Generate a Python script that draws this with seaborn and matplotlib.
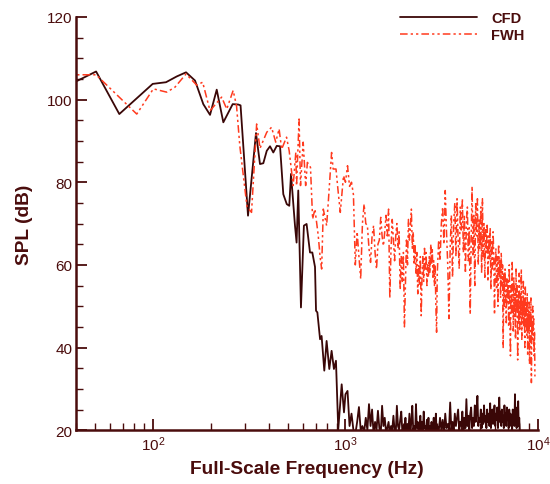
import numpy as np
import pandas as pd
import matplotlib
matplotlib.use("Agg")
import matplotlib.pyplot as plt
import seaborn as sns
from matplotlib.ticker import LogLocator, MultipleLocator, NullFormatter, FixedLocator

# ---------------- data ----------------
# CFD below 1 kHz: frequency (Hz) / SPL (dB)
cfd_low_freq = [33.3, 50.6, 66.8, 99.6, 116.8, 132.8, 148.4, 165.3, 182.5, 197.8,
                214.3, 231.9, 259.4, 277.4, 285.0, 311.6, 342.8, 359.6, 374.2, 389.9,
                405.5, 421.7, 439.5, 457.1, 475.3, 495.5, 510.5, 521.2, 546.6, 557.2,
                568.5, 587.1, 608.1, 628.1, 654.2, 672.6, 694.6, 703.1, 714.5, 737.9,
                751.6, 776.2, 798.0, 824.1, 847.2, 871.0, 892.5, 917.3, 955.7, 982.5]
cfd_low_spl = [102.6, 106.8, 96.5, 103.8, 104.2, 105.6, 106.6, 104.6, 98.9, 96.3,
               102.4, 94.5, 98.9, 98.8, 98.6, 71.9, 91.9, 84.4, 84.6, 87.6,
               88.7, 87.2, 88.8, 88.7, 77.1, 74.7, 74.3, 82.0, 69.5, 65.4,
               78.0, 49.7, 69.5, 69.9, 63.0, 63.0, 59.5, 48.9, 48.5, 42.0,
               42.8, 34.4, 41.6, 34.8, 39.2, 34.8, 36.8, 20.2, 31.1, 24.3]
# CFD 1000-2975 Hz, every 25 Hz
cfd_mid_spl = [28.7, 29.5, 21, 24, 20, 19, 22, 25.6,
               20, 21, 19.5, 23, 20, 26.3, 21, 25,
               19, 22, 20, 24.7, 20.5, 19, 25.9, 21,
               23, 19.5, 20.5, 22, 19, 21, 20, 23.5,
               20, 19, 25.9, 21, 20, 22.5, 24.5, 19.5,
               21, 20, 23, 19, 21.5, 20, 24, 19.5,
               22, 25.9, 20, 21, 19, 26.3, 20.5, 22,
               19.5, 21, 23.5, 20, 22, 19, 24.5, 20.5,
               21, 19.5, 22.5, 20, 23, 19, 21, 20,
               22, 19.5, 20.5, 23, 19, 21, 24, 20]
# CFD from 3000 Hz, every 50 Hz
cfd_high_spl = [21, 19.5, 23, 20, 22.5, 19, 24, 20.5, 21.5, 20,
                26.7, 20, 22, 19.5, 24, 21, 23, 25, 20, 22,
                21, 24.5, 19.5, 23, 20.5, 27.5, 21, 23.5, 20, 24,
                25.5, 20.5, 23, 21, 26, 22, 24.5, 28.3, 21, 23,
                22, 25, 20.5, 24, 21.5, 26, 22, 23.5, 20.5, 25,
                22, 24, 21, 26.5, 20.5, 23, 25, 21.5, 24, 26,
                21, 24, 22.5, 25.5, 20.5, 23, 27.9, 22, 24.5, 21,
                25, 22, 23.5, 20.5, 26, 22, 24, 21, 25.5, 22.5,
                23, 20.5, 25, 22, 24, 21, 23.5, 20, 25, 22,
                24, 21, 28.7, 22, 23, 20.5, 25.5, 22, 27, 21,
                23, 20]

# FWH below 1 kHz
fwh_low_freq = [33.3, 50.6, 82.3, 100.4, 117.8, 130.0, 148.4, 168.7, 181.1, 197.8,
                227.3, 241.6, 260.8, 271.6, 282.5, 308.0, 325.0, 345.5, 359.6, 390.0,
                413.0, 434.0, 452.0, 466.0, 494.0, 510.0, 535.0, 552.0, 557.0, 574.0,
                584.0, 603.0, 621.0, 634.0, 658.0, 675.0, 694.0, 722.0, 738.0, 752.0,
                767.0, 798.0, 814.0, 847.0, 863.0, 893.0, 915.0, 940.0, 977.0]
fwh_low_spl = [106.0, 106.0, 96.5, 102.6, 101.8, 103.0, 106.2, 103.5, 104.2, 97.3,
               100.6, 97.7, 102.2, 98.5, 88.8, 74.0, 72.7, 94.1, 88.2, 92.1,
               93.3, 89.7, 92.9, 88.0, 90.9, 87.6, 79.2, 87.2, 79.2, 95.3,
               79.2, 89.7, 79.2, 84.8, 83.6, 71.1, 73.5, 67.1, 62.0, 59.0,
               73.5, 69.5, 75.1, 87.2, 83.2, 83.2, 78.0, 72.7, 81.6]
# FWH 1000-2975 Hz, every 25 Hz
fwh_mid_spl = [80, 84, 79, 80, 77, 60, 68, 62,
               56.6, 70, 74.7, 70, 69.5, 64, 60.6, 67,
               69.5, 63, 59, 65, 66, 71.5, 67, 64.6,
               68, 72, 67, 73.5, 52, 64, 71, 66,
               61, 67, 70, 64, 68, 54, 62, 56,
               63, 45, 56, 66, 60, 71, 66, 69,
               73.5, 64, 68, 60, 65, 58, 63, 53,
               60, 55, 62, 47.7, 57, 62, 56, 64,
               59, 63, 55, 60, 57, 62, 58, 65,
               60, 64, 57, 61, 55, 60, 50, 43.7]
# FWH from 3000 Hz, every 50 Hz
fwh_high_spl = [58, 66, 61, 70, 74, 65, 78, 68, 60, 47,
                64, 72, 57, 70, 75, 62, 76, 66, 59, 74,
                68, 76, 63, 72, 58, 70, 74, 61, 69, 48,
                66, 79, 62, 72, 55, 75, 67, 76, 60, 71,
                64, 74, 58, 76, 62, 70, 57, 69, 63, 70,
                56, 67, 61, 69, 54, 66, 59, 68, 62, 48,
                60, 64, 54, 62, 50, 65, 57, 61, 52, 63,
                55, 60, 40, 58, 50, 59, 53, 46, 57, 51,
                56, 45, 60, 50, 38, 55, 48, 61, 52, 44,
                57, 47, 53, 42, 59, 49, 55, 37, 52, 46,
                58, 44, 53, 48, 59, 42, 51, 47, 56, 45,
                52, 40, 55, 46, 50, 43, 53, 38, 49, 44,
                51, 36, 48, 45, 52, 31.5, 46, 42, 50, 44,
                47, 38, 44, 33]

mid_start, mid_step = 1000.0, 25.0
high_start, high_step = 3000.0, 50.0

series_names = ["CFD", "FWH"]


def build(low_f, low_s, mid_s, high_s):
    f = list(low_f)
    f += list(mid_start + mid_step * np.arange(len(mid_s)))
    f += list(high_start + high_step * np.arange(len(high_s)))
    s = list(low_s) + list(mid_s) + list(high_s)
    return pd.DataFrame({"freq": f, "spl": s})


cfd = build(cfd_low_freq, cfd_low_spl, cfd_mid_spl, cfd_high_spl)
fwh = build(fwh_low_freq, fwh_low_spl, fwh_mid_spl, fwh_high_spl)

# ---------------- style ----------------
AX_COLOR = "#4a0c0c"
CFD_COLOR = "#3a0707"
FWH_COLOR = "#ff3a1e"

sns.set_theme(style="ticks")
plt.rcParams["font.family"] = ["Liberation Sans", "DejaVu Sans"]
plt.rcParams["mathtext.default"] = "regular"

fig = plt.figure(figsize=(5.5, 4.85), dpi=100)
ax = fig.add_axes([0.139, 0.111, 0.839, 0.852])

sns.lineplot(data=cfd, x="freq", y="spl", ax=ax, color=CFD_COLOR, lw=1.3,
             label=series_names[0], estimator=None, sort=False)
sns.lineplot(data=fwh, x="freq", y="spl", ax=ax, color=FWH_COLOR, lw=1.1,
             linestyle=(0, (5, 2, 1.5, 2, 1.5, 2)),
             label=series_names[1], estimator=None, sort=False)

ax.set_xscale("log")
ax.set_xlim(40, 1e4)
ax.set_ylim(20, 120)

ax.yaxis.set_major_locator(FixedLocator([20, 40, 60, 80, 100, 120]))
ax.yaxis.set_minor_locator(MultipleLocator(5))
ax.xaxis.set_major_locator(LogLocator(base=10))
ax.xaxis.set_minor_locator(LogLocator(base=10, subs=np.arange(2, 10)))
ax.xaxis.set_minor_formatter(NullFormatter())

ax.tick_params(which="both", direction="in", colors=AX_COLOR, labelcolor=AX_COLOR,
               top=False, right=False, labelsize=11, pad=3)
ax.tick_params(which="major", length=8, width=1.3)
ax.tick_params(which="minor", length=5, width=1.0)

sns.despine(ax=ax)
for side in ["left", "bottom"]:
    ax.spines[side].set_color(AX_COLOR)
    ax.spines[side].set_linewidth(1.8)

ax.set_xlabel("Full-Scale Frequency (Hz)", fontsize=13.8, fontweight="bold",
              color=AX_COLOR, labelpad=5)
ax.set_ylabel("SPL (dB)", fontsize=13.8, fontweight="bold", color=AX_COLOR, labelpad=10)

leg = ax.legend(loc="upper right", bbox_to_anchor=(1.0, 1.045), frameon=False,
                handlelength=5.3, handletextpad=1.0, labelspacing=0.2,
                prop={"weight": "bold", "size": 10.5})
for t in leg.get_texts():
    t.set_color(AX_COLOR)

fig.savefig("out.png", dpi=100)
